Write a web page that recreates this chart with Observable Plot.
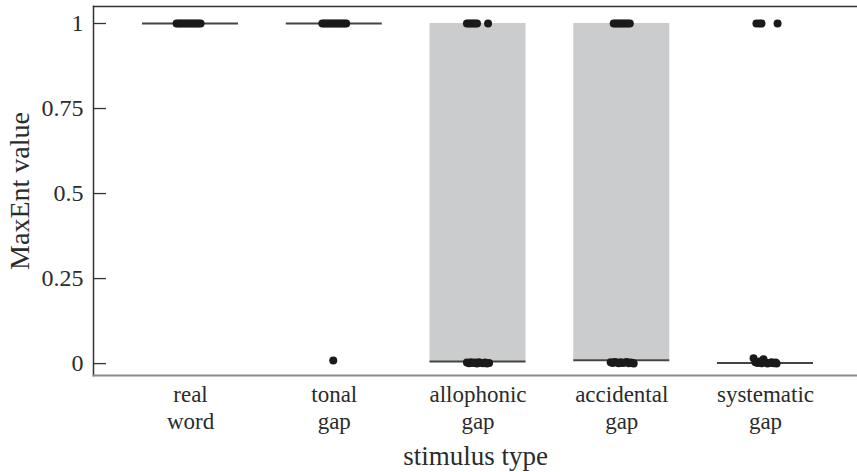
<!DOCTYPE html>
<html><head><meta charset="utf-8">
<script src="https://cdn.jsdelivr.net/npm/d3@7"></script>
<script src="https://cdn.jsdelivr.net/npm/@observablehq/plot@0.6"></script>
<style>body{margin:0;background:#fff} #chart svg{display:block}</style>
</head><body><div id="chart"></div>
<script>
// Categories and tick labels
const categories = ["real word", "tonal gap", "allophonic gap", "accidental gap", "systematic gap"];
const tickLabels = ["real\nword", "tonal\ngap", "allophonic\ngap", "accidental\ngap", "systematic\ngap"];
const yTicks = [0, 0.25, 0.5, 0.75, 1];
const xTitle = "stimulus type";
const yTitle = "MaxEnt value";

// Box statistics per category
const boxQ1     = [1, 1, 0.006, 0.010, 0.002];
const boxMedian = [1, 1, 0.006, 0.010, 0.002];
const boxQ3     = [1, 1, 1, 1, 0.002];

// Jittered observations (horizontal jitter in category units, value)
const realJitter  = [-0.097,-0.083,-0.070,-0.056,-0.042,-0.028,-0.014,0,0.014,0.028,0.042,0.056,0.070];
const realValues  = [1,1,1,1,1,1,1,1,1,1,1,1,1];
const tonalJitter = [-0.083,-0.070,-0.056,-0.042,-0.028,-0.014,0,0.014,0.028,0.042,0.056,0.070,0.083,-0.007];
const tonalValues = [1,1,1,1,1,1,1,1,1,1,1,1,1,0.009];
const alloJitter  = [-0.077,-0.063,-0.049,-0.035,-0.021,-0.007,0.070,
                     -0.077,-0.063,-0.049,-0.035,-0.021,-0.007,0.007,0.021,0.035,0.049,0.063,0.077];
const alloValues  = [1,1,1,1,1,1,1,
                     0.003,0.001,0.004,0.002,0.003,0.000,0.004,0.002,0.001,0.003,0.000,0.002];
const acciJitter  = [-0.056,-0.042,-0.028,-0.014,0,0.014,0.028,0.042,0.056,
                     -0.077,-0.063,-0.049,-0.035,-0.021,-0.007,0.007,0.021,0.035,0.049,0.063,0.077,0.083];
const acciValues  = [1,1,1,1,1,1,1,1,1,
                     0.004,0.002,0.005,0.003,0.001,0.004,0.002,0.003,0.005,0.001,0.003,0.002,0.000];
const systJitter  = [-0.063,-0.042,-0.028,0.084,
                     -0.083,-0.070,-0.056,-0.042,-0.028,-0.014,0,0.014,0.028,0.042,0.056,0.070,0.077];
const systValues  = [1,1,1,1,
                     0.016,0.004,0.002,0.006,0.001,0.013,0.003,0.000,0.002,0.004,0.001,0.003,0.000];

const groups = [
  [realJitter, realValues], [tonalJitter, tonalValues], [alloJitter, alloValues],
  [acciJitter, acciValues], [systJitter, systValues]
];
const points = groups.flatMap(([js, vs], i) => js.map((j, k) => ({i, jitter: j, value: vs[k]})));
const boxes = categories.map((c, i) => ({i, q1: boxQ1[i], median: boxMedian[i], q3: boxQ3[i]}));
const catIndex = categories.map((c, i) => i);
const half = 0.334;

const font = "Liberation Serif";
const ink = "#2b2b2b";

const chart = Plot.plot({
  width: 857,
  height: 472,
  marginLeft: 93,
  marginRight: 0,
  marginTop: 6,
  marginBottom: 97,
  style: {fontFamily: "'Liberation Serif', serif", fontSize: "22px", color: ink, background: "#fff"},
  x: {type: "linear", domain: [-0.675, 4.64], axis: null},
  y: {domain: [-0.035, 1.05], axis: null},
  marks: [
    Plot.rect(boxes, {x1: d => d.i - half, x2: d => d.i + half, y1: "q1", y2: "q3", fill: "#cbcccd"}),
    Plot.ruleY(boxes, {x1: d => d.i - half, x2: d => d.i + half, y: "median", stroke: "#444", strokeWidth: 2}),
    Plot.dot(points, {x: d => d.i + d.jitter, y: "value", r: 4, fill: "#1a1a1a", stroke: "none"}),
    Plot.frame({anchor: "top", stroke: "#333", strokeWidth: 1.5}),
    Plot.frame({anchor: "left", stroke: "#333", strokeWidth: 1.5}),
    Plot.frame({anchor: "bottom", stroke: "#8a8a8a", strokeWidth: 2}),
    Plot.axisY({ticks: yTicks, tickSize: 13, dx: 13, text: null, stroke: "#333", strokeWidth: 1.3, label: null}),
    // y tick labels
    Plot.text(yTicks, {y: d => d, text: d => String(d), frameAnchor: "left", dx: -10, textAnchor: "end",
      lineAnchor: "middle", fontFamily: font, fontSize: 24, fill: ink}),
    // x tick labels
    Plot.text(catIndex, {x: d => d, text: i => tickLabels[i], frameAnchor: "bottom", dy: 8, lineAnchor: "top",
      lineHeight: 1.15, fontFamily: font, fontSize: 23, fill: ink}),
    Plot.text([yTitle], {frameAnchor: "left", rotate: -90, dx: -73, textAnchor: "middle",
      fontFamily: font, fontSize: 28, fill: ink}),
    Plot.text([xTitle], {frameAnchor: "bottom", dy: 89, fontFamily: font, fontSize: 27, fill: ink})
  ]
});
document.getElementById("chart").append(chart);
</script>
</body></html>
